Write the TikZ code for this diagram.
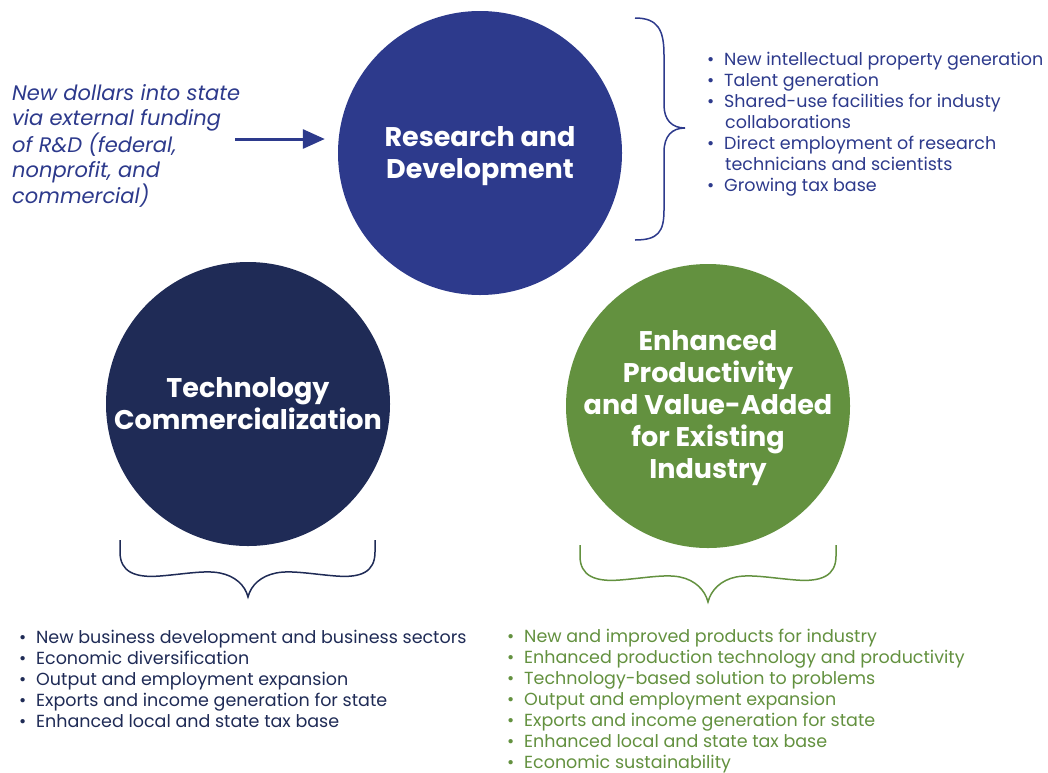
\documentclass[tikz,border=0pt]{standalone}
\usepackage{fontspec}
\setmainfont{Poppins}
\usetikzlibrary{arrows.meta,backgrounds}
\definecolor{rdblue}{HTML}{2D3A8C}
\definecolor{navy}{HTML}{1F2B56}
\definecolor{leaf}{HTML}{63913F}
\definecolor{linkgray}{HTML}{DFE4EE}
\newcommand{\bul}{\makebox[18pt][l]{\hspace{1pt}•}}
\newcommand{\ind}{\hspace*{19pt}}
\begin{document}
\begin{tikzpicture}[x=1pt,y=-1pt,
  circ/.style={circle, minimum size=284pt, inner sep=0pt},
  circtext/.style={inner sep=0pt, text=white,
    font=\bfseries\fontsize{27}{32}\selectfont, align=center},
  linkline/.style={draw=linkgray, line width=5pt},
  bracestyle/.style={line width=1.5pt},
  listtext/.style={anchor=north west, inner sep=0pt, align=left,
    font=\fontsize{17.5}{21}\selectfont},
  srctext/.style={anchor=west, inner sep=0pt, align=left, text=rdblue,
    font=\itshape\fontsize{21}{25}\selectfont}]
\useasboundingbox (0,0) rectangle (1048,772);
\fill[white] (0,0) rectangle (1048,772);

\node[circ, fill=rdblue] (rd) at (480,153) {};
\node[circ, fill=navy] (tc) at (248,404) {};
\node[circ, fill=leaf] (ep) at (708,406) {};
\node[circtext] (rdt) at (480,156) {Research and\\Development};
\node[circtext] (tct) at (248,404) {Technology\\Commercialization};
\node[circtext] (ept) at (708,408) {Enhanced\\Productivity\\and Value-Added\\for Existing\\Industry};

\begin{scope}[on background layer]
  \draw[linkline] (rd.center) -- (tc.center) -- (ep.center) -- cycle;
\end{scope}

\node[srctext] (src) at (12,146) {New dollars into state\\via external funding\\of R\&D (federal,\\nonprofit, and\\commercial)};
\draw[rdblue, line width=3pt, -{Triangle[length=22pt,width=19pt]}]
  ([shift={(-5pt,7pt)}]src.east) -- ([shift={(-13pt,7pt)}]src.east -| rd.west);

% right brace
\draw[rdblue, bracestyle] (635,18) .. controls (658,18) and (664,30) .. (664,55)
  -- (664,105) .. controls (664,120) and (672,128) .. (685,128)
  .. controls (672,128) and (664,136) .. (664,152)
  -- (664,210) .. controls (664,232) and (658,240) .. (635,240);

% bottom left brace
\draw[navy, bracestyle] (120,540) -- (120,552) .. controls (120,572) and (135,578) .. (160,576)
  .. controls (185,574) and (205,570) .. (220,573)
  .. controls (235,576) and (245,585) .. (248,597)
  .. controls (251,585) and (261,576) .. (276,573)
  .. controls (291,570) and (311,574) .. (336,576)
  .. controls (361,578) and (375,572) .. (375,552) -- (375,540);

% bottom green brace
\draw[leaf, bracestyle] (580,545) -- (580,556) .. controls (580,576) and (595,582) .. (620,580)
  .. controls (645,578) and (665,574) .. (680,577)
  .. controls (695,580) and (705,590) .. (708,602)
  .. controls (711,590) and (721,580) .. (736,577)
  .. controls (751,574) and (771,578) .. (796,580)
  .. controls (821,582) and (836,576) .. (836,556) -- (836,545);

\node[listtext, text=rdblue] (rdlist) at (706,52) {\bul New intellectual property generation\\
\bul Talent generation\\
\bul Shared-use facilities for industy\\
\ind collaborations\\
\bul Direct employment of research\\
\ind technicians and scientists\\
\bul Growing tax base};

\node[listtext, text=navy] (tclist) at (18,630) {\bul New business development and business sectors\\
\bul Economic diversification\\
\bul Output and employment expansion\\
\bul Exports and income generation for state\\
\bul Enhanced local and state tax base};

\node[listtext, text=leaf] (eplist) at (506,629) {\bul New and improved products for industry\\
\bul Enhanced production technology and productivity\\
\bul Technology-based solution to problems\\
\bul Output and employment expansion\\
\bul Exports and income generation for state\\
\bul Enhanced local and state tax base\\
\bul Economic sustainability};
\end{tikzpicture}
\end{document}
